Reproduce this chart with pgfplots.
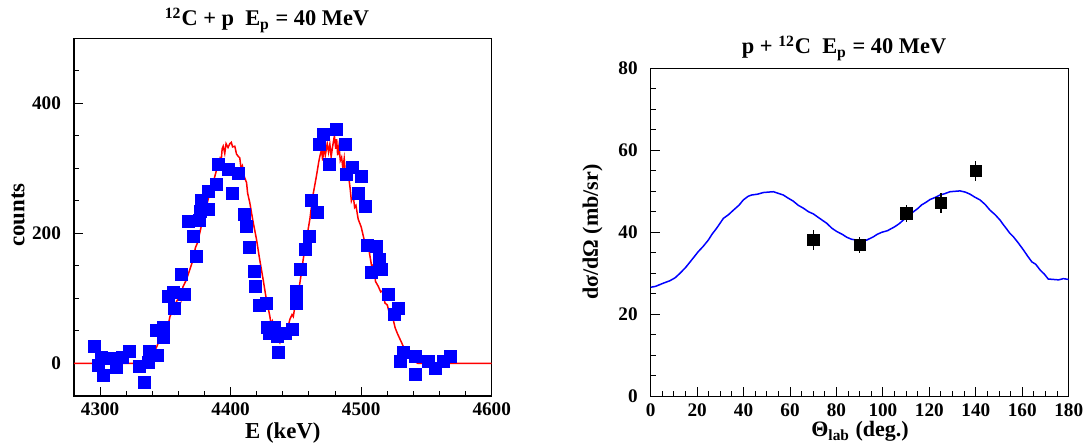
\documentclass[border=0pt]{standalone}
\usepackage{fontspec}
\setmainfont{Liberation Serif}
\usepackage{pgfplots}
\pgfplotsset{compat=1.18}
\begin{document}
\begin{tikzpicture}
\useasboundingbox (0,0) rectangle (543pt,224pt);
\pgfplotsset{rootstyle/.style={
  scale only axis, axis line style={line width=0.6pt},
  tick align=inside, xtick pos=bottom, ytick pos=left,
  major tick length=4.5pt, minor tick length=2.4pt,
  every tick/.style={black, line width=0.5pt},
  tick label style={font=\fontsize{9.6}{10}\selectfont\bfseries},
  /pgf/number format/assume math mode=true,
  /pgf/number format/1000 sep={},
  yticklabel style={xshift=-3pt},
  enlargelimits=false,
}}
\begin{axis}[rootstyle, at={(37pt,26pt)}, anchor=south west,
  width=208.85pt, height=178.85pt,
  xmin=4280, xmax=4600, ymin=-50, ymax=500,
  xtick={4300,4400,4500,4600},
  minor xtick={4280,4320,4340,4360,4380,4420,4440,4460,4480,4520,4540,4560,4580},
  ytick={0,200,400},
  minor ytick={50,100,150,250,300,350,450}]
\addplot[only marks, mark=square*, mark size=3pt, color=blue] table {
x y
4295.4 26.6
4298.5 -3
4302.3 -18.5
4301.1 8.7
4308.7 7.2
4312.6 -6.6
4317.2 8.7
4322.8 19
4330.4 -4
4333.7 -28.7
4337.5 19
4336.8 2
4343.7 12.8
4343.2 51
4348.3 55
4348.8 39.5
4352.1 103.5
4355.9 108.7
4357.2 84
4362.4 137
4364.9 106
4373.9 165
4371.3 196
4367.4 219
4376.4 220
4376.9 234
4382.8 237
4377.7 250
4382.8 265
4389.2 275
4390.4 306
4398.1 298
4405.7 293
4401.5 262
4410.9 229
4412.2 211
4414.7 178
4418.5 142
4419.3 118
4422.4 89
4427.5 92
4428 56
4433.9 56
4430 46
4435.6 42
4436.4 17
4442.3 46
4447.4 52
4450 93
4450.5 111
4453.6 145
4457.6 176
4460.2 196
4462 251
4466.3 233
4467.8 337
4470.9 352
4476 306
4481.1 360
4487.7 337
4488.8 291
4493.4 302
4499.8 288
4497.7 262
4503.6 242
4504.6 182
4511.8 180
4513.8 160
4508 140
4515.6 145
4521 106
4528.4 84
4525.1 75
4532.2 17
4530.2 3.6
4541.9 11
4541.9 -17
4551.3 3.6
4556.5 -7
4562.8 3.6
4568 11
};
\addplot[red, line width=0.75pt] table {
x y
4280 0
4334 0
4337 3
4340.6 16
4343 24
4345.7 37
4348 45
4350.9 60
4352 58
4353.5 72
4355.9 83
4357 78
4358.5 95
4361.1 104
4362 98
4363.5 118
4366.2 129
4368 140
4371.3 160
4373 178
4374.5 185
4376.4 201
4379 225
4381.5 242
4384 262
4386.6 278
4389 296
4391.7 314
4392.5 305
4393.5 330
4394.3 334
4395.5 323
4396.5 338
4398 332
4399.4 338
4400.5 340
4401.5 333
4403.2 334
4404.5 322
4406 318
4407 316
4408 300
4409 304
4410.5 287
4412.2 278
4413 262
4414.7 247
4417 220
4419.8 191
4422 163
4424.9 129
4427 103
4430 73
4431 60
4432 65
4434 48
4436 38
4437.7 32
4439 42
4440.5 38
4442.8 47
4445.4 68
4447 75
4448 72
4450.5 104
4452 110
4453.5 130
4455.6 160
4458 190
4460.7 222
4463 258
4465.8 289
4467.5 310
4468.5 320
4469.7 329
4470.5 312
4471.5 334
4472.5 320
4474 338
4475 325
4476 337
4477 318
4478 332
4479.5 350
4480.5 330
4481.2 345
4482 320
4483 335
4484 312
4485 317
4486 300
4487 315
4488 290
4490 294
4491.5 270
4492.5 250
4493.9 258
4495 240
4496 243
4497.7 222
4500 210
4502.8 186
4504 175
4505.5 180
4508 150
4509.5 152
4511 126
4513 119
4515 110
4516.5 112
4518.2 93
4520 90
4521.5 78
4524.5 68
4526 55
4528 45
4531 32
4534 18
4537.3 9
4540 4
4543.7 0
4600 0
};
\end{axis}
\begin{axis}[rootstyle, at={(325.35pt,25.85pt)}, anchor=south west,
  width=209pt, height=164pt,
  xmin=0, xmax=180, ymin=0, ymax=80,
  xtick={0,20,...,180}, minor x tick num=3,
  ytick={0,20,...,80}, minor y tick num=3]
\addplot[blue, line width=0.75pt] table {
x y
0 26.6
2 26.8
5.5 27.6
8.3 28.2
10.5 28.9
12.6 30.0
15 31.4
17 32.8
20.5 35.3
22.5 36.5
24.8 38.1
26.5 39.6
28.4 41.0
31.3 43.4
33.5 44.3
35.6 45.4
38 46.6
39.9 47.9
42 48.8
43.5 49.1
46 49.3
48.5 49.7
50.5 49.8
52.8 49.9
55 49.5
57.1 49.1
59 48.4
61.4 47.6
63.5 46.6
65.7 45.9
68 45.0
70 44.5
73 43.3
75.8 42.2
78 41.0
80.1 40.2
82.5 39.5
84.4 38.8
86.5 38.3
88.7 38.1
91 38.0
93 38.1
95.9 38.9
97.5 39.5
99.5 40.0
102 40.4
105.2 41.4
107 42.1
108.8 43.0
111 44.0
113.1 45.0
115 45.8
116.7 46.7
118.5 47.3
120.3 48.0
122.5 48.5
124.6 49.1
126.5 49.4
128.9 49.9
131 50.0
133.2 50.1
135.5 49.8
137.5 49.3
139.5 48.6
141.8 47.9
144 46.8
146.1 45.4
148.3 44.3
150.4 43.0
151.8 41.9
153.3 40.8
154.6 39.8
156.2 38.9
158.3 37.4
160.5 35.7
162.3 34.2
164.1 32.8
165.8 32.2
167.7 30.8
169.5 29.8
171.2 28.6
173.5 28.5
175.6 28.4
177.7 28.7
180 28.5
};
\addplot[only marks, mark=square*, mark size=2.9pt, black,
  error bars/.cd, y dir=both, y explicit,
  error bar style={line width=0.6pt, black}, error mark=none]
  table[x=x, y=y, y error=e] {
x y e
70 38.1 2.4
90 36.9 1.9
110 44.6 2.0
125 47.2 2.4
140 55.0 2.4
};
\end{axis}
\node[font=\fontsize{11.2}{13}\selectfont\bfseries, anchor=base] at (133.5pt,211pt) {\textsuperscript{12}C + p\ \ E\textsubscript{p} = 40 MeV};
\node[font=\fontsize{11.2}{13}\selectfont\bfseries, anchor=base] at (422pt,197pt) {p + \textsuperscript{12}C\ \ E\textsubscript{p} = 40 MeV};
\node[font=\fontsize{11.4}{13}\selectfont\bfseries, anchor=base] at (141.4pt,4.75pt) {E (keV)};
\node[font=\fontsize{11}{13}\selectfont\bfseries, anchor=base] at (430pt,5.5pt) {Θ\textsubscript{lab} (deg.)};
\node[font=\fontsize{11.4}{13}\selectfont\bfseries, rotate=90, anchor=center] at (9pt,116.5pt) {counts};
\node[font=\fontsize{11}{13}\selectfont\bfseries, rotate=90, anchor=center] at (296.25pt,107.85pt) {dσ/dΩ (mb/sr)};
\end{tikzpicture}
\end{document}
